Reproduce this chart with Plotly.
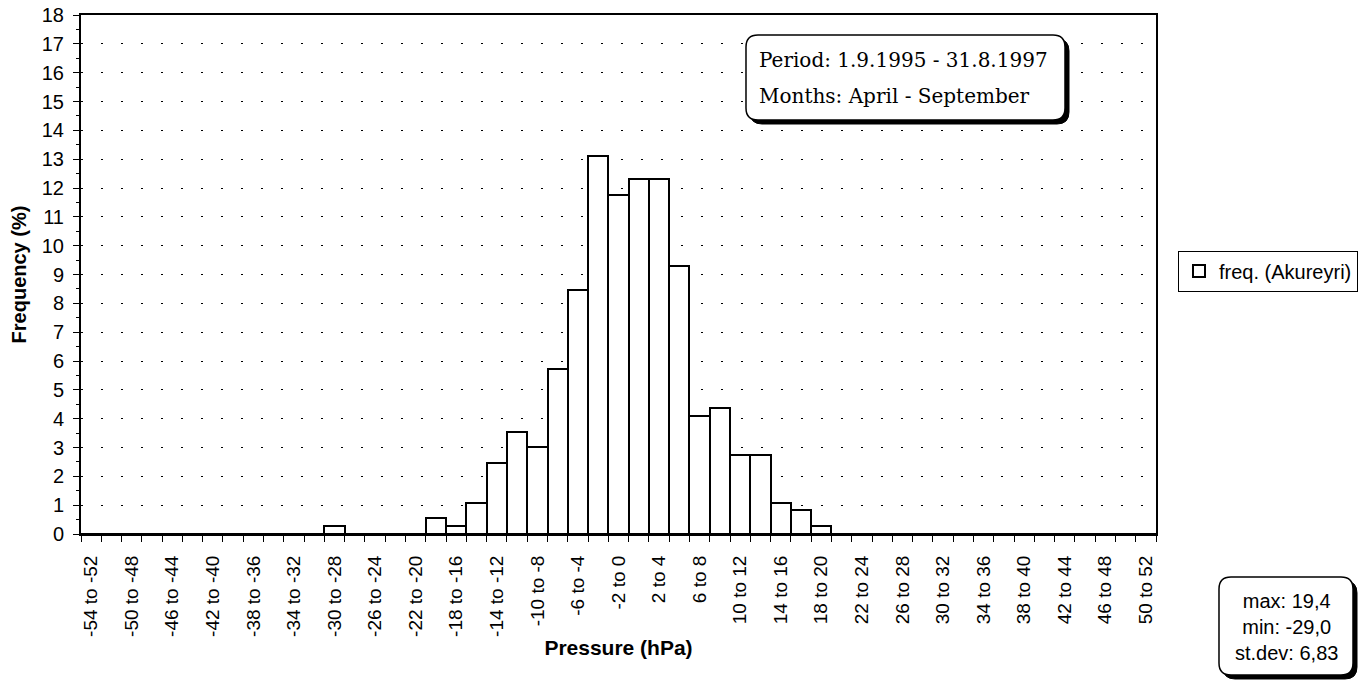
import plotly.graph_objects as go

# Pressure bins (hPa), lower edges, 2 hPa wide
bin_lower = list(range(-54, 52, 2))
bin_labels = [f"{lo} to {lo + 2}" for lo in bin_lower]

# Frequency (%) per bin, Akureyri, April - September
freq = [
    0, 0, 0, 0, 0, 0, 0, 0, 0, 0, 0, 0,
    0.27,
    0, 0, 0, 0,
    0.55, 0.27, 1.09, 2.46, 3.55, 3.01, 5.74, 8.47, 13.11, 11.75,
    12.30, 12.30, 9.29, 4.10, 4.37, 2.73, 2.73, 1.09, 0.82, 0.27,
    0, 0, 0, 0, 0, 0, 0, 0, 0, 0, 0, 0, 0, 0, 0, 0,
]

# every other bin gets a tick label
tick_text = [lab if i % 2 == 0 else "" for i, lab in enumerate(bin_labels)]

period_lines = ["Period: 1.9.1995 - 31.8.1997", "Months: April - September"]
stats_text = "max: 19,4<br>min: -29,0<br>st.dev: 6,83"

# page body has an 8px margin, so the figure is drawn 8px smaller
PAGE_OFF = 8
FIG_W, FIG_H = 1370 - PAGE_OFF, 683 - PAGE_OFF

# plot area in window pixels (used for placing the decorative boxes)
L, R, T, B = 81, 1156, 15, 534
W, H = R - L, B - T


def px(x):
    return (x - L) / W


def py(y):
    return (B - y) / H


def rounded_box(x0, y0, x1, y1, r):
    """SVG path of a rounded rectangle given in pixels, returned in paper coords"""
    def p(x, y):
        return f"{px(x):.5f},{py(y):.5f}"
    return (
        f"M {p(x0 + r, y0)} L {p(x1 - r, y0)} Q {p(x1, y0)} {p(x1, y0 + r)} "
        f"L {p(x1, y1 - r)} Q {p(x1, y1)} {p(x1 - r, y1)} "
        f"L {p(x0 + r, y1)} Q {p(x0, y1)} {p(x0, y1 - r)} "
        f"L {p(x0, y0 + r)} Q {p(x0, y0)} {p(x0 + r, y0)} Z"
    )


fig = go.Figure()

fig.add_trace(
    go.Bar(
        x=bin_labels,
        y=freq,
        name="freq. (Akureyri)",
        marker=dict(color="white", line=dict(color="black", width=2)),
        showlegend=True,
    )
)

font_main = "Liberation Sans, Arial, sans-serif"

fig.update_layout(
    width=FIG_W,
    height=FIG_H,
    margin=dict(l=L - PAGE_OFF, r=FIG_W - (R - PAGE_OFF), t=T - PAGE_OFF,
                b=FIG_H - (B - PAGE_OFF), autoexpand=False),
    plot_bgcolor="white",
    paper_bgcolor="white",
    bargap=0,
    font=dict(family=font_main, color="black", size=20),
    xaxis=dict(
        type="category",
        tickmode="array",
        tickvals=bin_labels,
        ticktext=tick_text,
        tickson="boundaries",
        ticks="outside",
        ticklen=6,
        tickwidth=1,
        tickcolor="black",
        tickangle=-90,
        tickfont=dict(size=19),
        ticklabelstandoff=12,
        showgrid=False,
        showline=True,
        linecolor="black",
        linewidth=2,
        mirror=True,
        automargin=False,
        title=dict(text="<b>Pressure (hPa)</b>", font=dict(size=21), standoff=4),
    ),
    yaxis=dict(
        range=[0, 18],
        tickmode="linear",
        tick0=0,
        dtick=1,
        ticks="outside",
        ticklen=6,
        tickwidth=1,
        tickcolor="black",
        tickfont=dict(size=20),
        ticklabelstandoff=5,
        ticklabeloverflow="allow",
        minor=dict(dtick=0.5, ticks="outside", ticklen=3, tickcolor="black", showgrid=False),
        showgrid=True,
        gridcolor="black",
        gridwidth=1,
        griddash="2px,18px",
        zeroline=False,
        showline=True,
        linecolor="black",
        linewidth=2,
        mirror=True,
        automargin=False,
        title=dict(text="<b>Frequency (%)</b>", font=dict(size=20), standoff=12),
    ),
    legend=dict(
        x=px(1178),
        y=py(271),
        xanchor="left",
        yanchor="middle",
        bgcolor="white",
        bordercolor="black",
        borderwidth=1,
        font=dict(size=20),
        itemwidth=30,
    ),
)

# rounded boxes with a drop shadow
shapes = []
for (x0, y0, x1, y1) in [(746, 35, 1065, 120), (1219, 577, 1353, 675)]:
    shapes.append(dict(
        type="path", xref="paper", yref="paper", layer="above",
        path=rounded_box(x0 + 4, y0 + 4, x1 + 4, y1 + 4, 12),
        fillcolor="black", line=dict(color="black", width=1),
    ))
    shapes.append(dict(
        type="path", xref="paper", yref="paper", layer="above",
        path=rounded_box(x0, y0, x1, y1, 12),
        fillcolor="white", line=dict(color="black", width=1.5),
    ))
fig.update_layout(shapes=shapes)

for line, ypix in zip(period_lines, [60, 96]):
    fig.add_annotation(
        x=px(757), y=py(ypix), xref="paper", yref="paper",
        xanchor="left", yanchor="middle",
        text=line, showarrow=False,
        font=dict(family="DejaVu Serif, serif", size=20, color="black"),
    )

fig.add_annotation(
    x=px(1286), y=py(627), xref="paper", yref="paper",
    xanchor="center", yanchor="middle", align="center",
    text=stats_text, showarrow=False,
    font=dict(family=font_main, size=20, color="black"),
)

fig.write_html("out.html")
